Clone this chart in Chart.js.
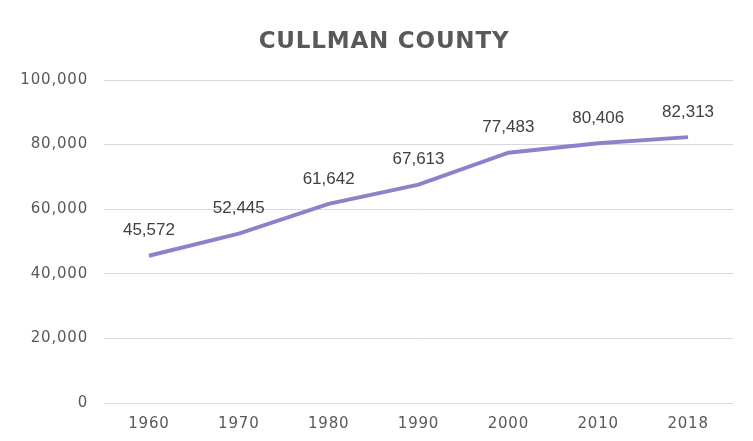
<!DOCTYPE html>
<html>
<head>
<meta charset="utf-8">
<script src="https://cdn.jsdelivr.net/npm/chart.js@4/dist/chart.umd.min.js"></script>
<style>
  html, body { margin: 0; padding: 0; background: #ffffff; }
  #wrap { width: 753px; height: 441px; position: relative; }
</style>
</head>
<body>
<div id="wrap"><canvas id="c"></canvas></div>
<script>
// Cullman County population by census year
const years = ['1960', '1970', '1980', '1990', '2000', '2010', '2018'];
const population = [45572, 52445, 61642, 67613, 77483, 80406, 82313];
const yTicks = [0, 20000, 40000, 60000, 80000, 100000];
const chartTitle = 'CULLMAN COUNTY';

const fmt = v => v.toLocaleString('en-US');
const axisFont = '"DejaVu Sans", sans-serif';

// Slightly open letter spacing for the axis text
const spacing = {
  id: 'spacing',
  beforeUpdate(chart) { chart.ctx.letterSpacing = '0.8px'; },
  beforeDraw(chart) { chart.ctx.letterSpacing = '0.8px'; }
};

// Title and the value above each point
const annotations = {
  id: 'annotations',
  afterDatasetsDraw(chart) {
    const ctx = chart.ctx;
    const meta = chart.getDatasetMeta(0);
    ctx.save();
    ctx.letterSpacing = '0px';
    ctx.font = '17px "Liberation Sans", Arial, sans-serif';
    ctx.fillStyle = '#404040';
    ctx.textAlign = 'center';
    ctx.textBaseline = 'middle';
    meta.data.forEach((pt, i) => {
      ctx.fillText(fmt(population[i]), pt.x, pt.y - 25);
    });

    ctx.letterSpacing = '0.8px';
    ctx.font = 'bold 23px "DejaVu Sans", sans-serif';
    ctx.fillStyle = '#595959';
    ctx.fillText(chartTitle, 384, 42);
    ctx.restore();
  }
};

new Chart(document.getElementById('c'), {
  type: 'line',
  data: {
    labels: years,
    datasets: [{
      data: population,
      borderColor: '#8A83C9',
      borderWidth: 4,
      pointRadius: 0,
      tension: 0,
      fill: false
    }]
  },
  options: {
    responsive: true,
    maintainAspectRatio: false,
    animation: false,
    layout: { padding: { left: 0, right: 20, top: 80, bottom: 0 } },
    plugins: {
      legend: { display: false },
      tooltip: { enabled: false },
      title: { display: false }
    },
    scales: {
      x: {
        offset: true,
        grid: { display: false },
        border: { display: false },
        ticks: {
          color: '#595959',
          font: { family: axisFont, size: 15 },
          padding: 4,
          maxRotation: 0
        },
        afterFit(scale) { scale.height = 38; }
      },
      y: {
        min: 0,
        max: 100000,
        afterBuildTicks(scale) { scale.ticks = yTicks.map(v => ({ value: v })); },
        grid: { color: '#D9D9D9', lineWidth: 1, drawTicks: false },
        border: { display: false },
        ticks: {
          color: '#595959',
          font: { family: axisFont, size: 15 },
          padding: 16,
          callback: v => fmt(v)
        },
        afterFit(scale) { scale.width = 104; }
      }
    }
  },
  plugins: [spacing, annotations]
});
</script>
</body>
</html>
